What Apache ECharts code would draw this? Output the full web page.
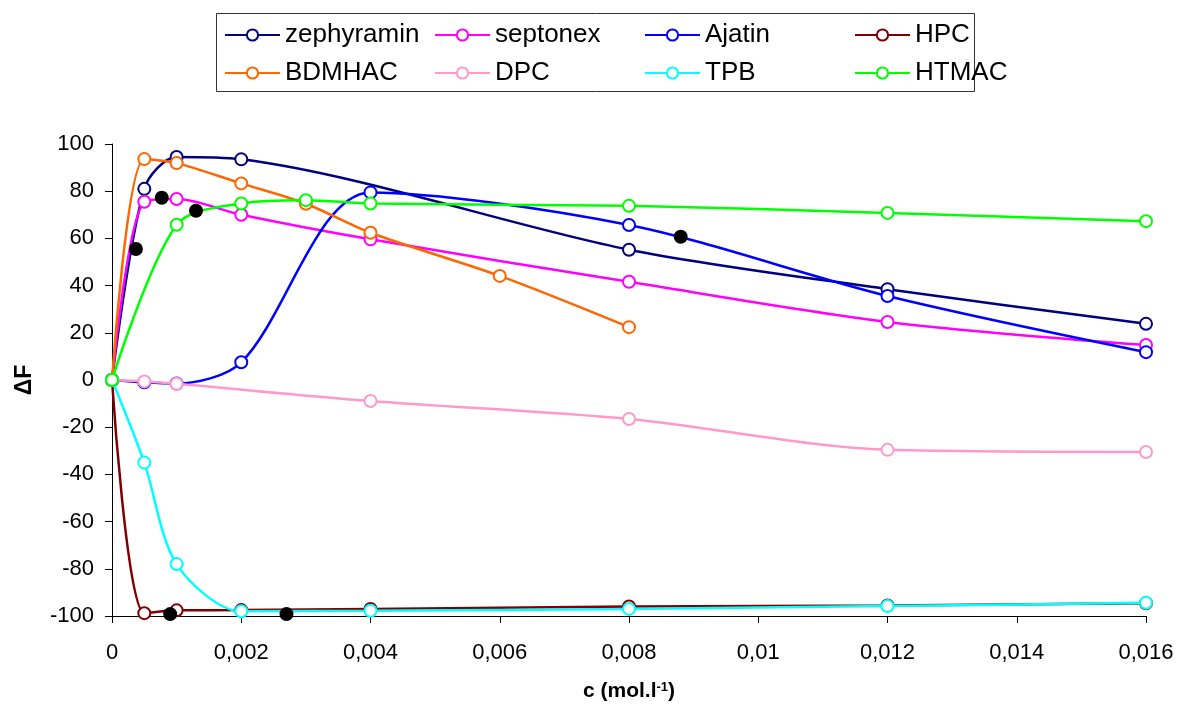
<!DOCTYPE html>
<html>
<head>
<meta charset="utf-8">
<script src="https://cdn.jsdelivr.net/npm/echarts@6/dist/echarts.min.js"></script>
<style>
html,body{margin:0;padding:0;background:#fff;}
#chart{width:1178px;height:709px;}
</style>
</head>
<body>
<div id="chart"></div>
<script>
// ---- data ----
const seriesNames = ['zephyramin','septonex','Ajatin','HPC','BDMHAC','DPC','TPB','HTMAC'];
const seriesColors = ['#000080','#FF00FF','#0000FF','#800000','#FF6600','#FF99CC','#00FFFF','#00FF00'];

const zephyraminX = [0, 0.0005, 0.001, 0.002, 0.008, 0.012, 0.016];
const zephyraminY = [0, 81, 94.5, 93.5, 55.2, 38.5, 23.8];

const septonexX = [0, 0.0005, 0.001, 0.002, 0.004, 0.008, 0.012, 0.016];
const septonexY = [0, 75.5, 76.7, 70, 59.6, 41.6, 24.6, 14.8];

const ajatinX = [0, 0.0005, 0.001, 0.002, 0.004, 0.008, 0.012, 0.016];
const ajatinY = [0, -1, -1.5, 7.5, 79.5, 65.7, 35.6, 11.8];

const hpcX = [0, 0.0005, 0.001, 0.002, 0.004, 0.008, 0.012, 0.016];
const hpcY = [0, -98.8, -97.6, -97.5, -97, -96, -95.5, -94.6];

const bdmhacX = [0, 0.0005, 0.001, 0.002, 0.003, 0.004, 0.006, 0.008];
const bdmhacY = [0, 93.6, 91.9, 83.3, 74.7, 62.4, 44.1, 22.4];

const dpcX = [0, 0.0005, 0.001, 0.004, 0.008, 0.012, 0.016];
const dpcY = [0, -0.6, -1.6, -8.9, -16.5, -29.6, -30.5];

const tpbX = [0, 0.0005, 0.001, 0.002, 0.004, 0.008, 0.012, 0.016];
const tpbY = [0, -35, -78, -98, -97.8, -97, -95.8, -94.4];

const htmacX = [0, 0.001, 0.002, 0.003, 0.004, 0.008, 0.012, 0.016];
const htmacY = [0, 65.8, 74.8, 76.2, 74.8, 73.8, 70.8, 67.3];

const markedX = [0.00037, 0.00077, 0.0013, 0.0088, 0.0009, 0.0027];
const markedY = [55.5, 77.2, 71.7, 60.7, -99.2, -99.2];

const xTickLabels = ['0','0,002','0,004','0,006','0,008','0,01','0,012','0,014','0,016'];
const yTickLabels = ['-100','-80','-60','-40','-20','0','20','40','60','80','100'];

// ---- build ----
const xs = [zephyraminX, septonexX, ajatinX, hpcX, bdmhacX, dpcX, tpbX, htmacX];
const ys = [zephyraminY, septonexY, ajatinY, hpcY, bdmhacY, dpcY, tpbY, htmacY];
const zip = (a, b) => a.map((v, i) => [v, b[i]]);

const FONT = '"Liberation Sans", Arial, sans-serif';

const series = seriesNames.map((name, i) => ({
  name: name,
  type: 'line',
  data: zip(xs[i], ys[i]),
  smooth: 0.3,
  symbol: 'emptyCircle',
  symbolSize: 12,
  showAllSymbol: true,
  color: seriesColors[i],
  lineStyle: { width: 2.5, color: seriesColors[i] },
  itemStyle: { color: seriesColors[i], borderColor: seriesColors[i], borderWidth: 2.2 },
  emphasis: { disabled: true },
  z: 2 + i
}));
series.push({
  name: 'marked',
  type: 'scatter',
  data: zip(markedX, markedY),
  symbol: 'circle',
  symbolSize: 14,
  itemStyle: { color: '#000000', opacity: 1 },
  z: 20,
  emphasis: { disabled: true }
});

const legendCols = [224, 434, 644, 854];
const legendRows = [22, 60];
const legends = seriesNames.map((name, i) => ({
  data: [name],
  left: legendCols[i % 4],
  top: legendRows[Math.floor(i / 4)],
  itemWidth: 55,
  itemHeight: 14,
  itemGap: 0,
  padding: 0,
  selectedMode: false,
  textStyle: { fontFamily: FONT, fontSize: 26, color: '#000' }
}));

const chart = echarts.init(document.getElementById('chart'), null, { renderer: 'canvas' });
chart.setOption({
  animation: false,
  backgroundColor: '#ffffff',
  legend: legends,
  graphic: [{
    type: 'rect',
    shape: { x: 216.5, y: 13.5, width: 758, height: 78 },
    style: { fill: 'none', stroke: '#333', lineWidth: 1 },
    z: -1
  }],
  grid: { left: 112, right: 32, top: 144, bottom: 93 },
  xAxis: {
    type: 'value',
    min: 0, max: 0.016, interval: 0.002,
    name: '{b|c (mol.l}{s|-1}{b|)}',
    nameLocation: 'middle',
    nameGap: 65,
    nameTextStyle: {
      rich: {
        b: { fontFamily: FONT, fontSize: 21, fontWeight: 'bold', color: '#000' },
        s: { fontFamily: FONT, fontSize: 13, fontWeight: 'bold', color: '#000', verticalAlign: 'top', lineHeight: 14, padding: [0,0,10,0] }
      }
    },
    splitLine: { show: false },
    axisLine: { onZero: false, lineStyle: { color: '#000', width: 1 } },
    axisTick: { show: true, length: 7, inside: false, lineStyle: { color: '#000' } },
    axisLabel: {
      margin: 26,
      fontFamily: FONT, fontSize: 22, color: '#000',
      formatter: v => xTickLabels[Math.round(v / 0.002)]
    }
  },
  yAxis: {
    type: 'value',
    min: -100, max: 100, interval: 20,
    name: 'ΔF',
    nameLocation: 'middle',
    nameGap: 76,
    nameTextStyle: { fontFamily: FONT, fontSize: 23, fontWeight: 'bold', color: '#000' },
    splitLine: { show: false },
    axisLine: { show: true, onZero: false, lineStyle: { color: '#000', width: 1 } },
    axisTick: { show: true, length: 7, inside: false, lineStyle: { color: '#000' } },
    axisLabel: {
      margin: 18,
      fontFamily: FONT, fontSize: 22, color: '#000',
      formatter: v => yTickLabels[Math.round((v + 100) / 20)]
    }
  },
  series: series
});
</script>
</body>
</html>
